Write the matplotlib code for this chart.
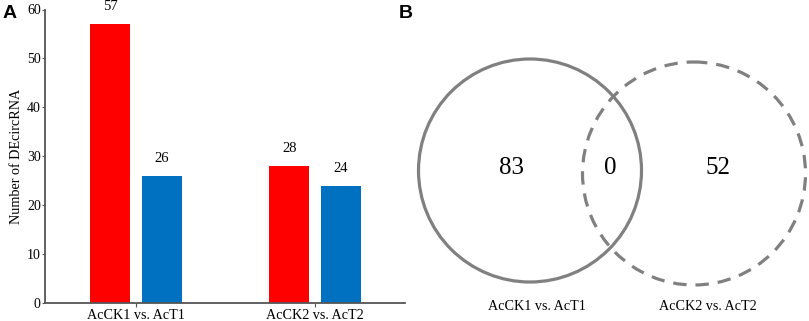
import numpy as np
import matplotlib
matplotlib.use("Agg")
import matplotlib.pyplot as plt
from matplotlib.patches import Circle

plt.rcParams['font.family'] = ['Liberation Serif', 'DejaVu Serif']

# panel A data
groups = ['AcCK1 vs. AcT1', 'AcCK2 vs. AcT2']
red_vals = [57, 28]
blue_vals = [26, 24]

# panel B data
venn_labels = ['AcCK1 vs. AcT1', 'AcCK2 vs. AcT2']
venn_counts = [83, 0, 52]   # only 1, both, only 2

W, H = 809, 321
fig = plt.figure(figsize=(W / 100, H / 100), dpi=100)

axis_col = '#555555'
ax = fig.add_axes([45 / W, 18 / H, 360 / W, 293.5 / H])
x = np.arange(len(groups))
bw = 0.223
off = 0.032 + bw / 2
ax.bar(x - off, red_vals, bw, color='#FF0000')
ax.bar(x + off, blue_vals, bw, color='#0070C0')
for xi, v in zip(x - off, red_vals):
    ax.text(xi, v + 2.2, str(v), ha='center', va='bottom', fontsize=10.5)
for xi, v in zip(x + off, blue_vals):
    ax.text(xi, v + 2.2, str(v), ha='center', va='bottom', fontsize=10.5)
ax.set_xlim(-0.508, 1.503)
ax.set_ylim(0, 60)
ax.set_yticks(range(0, 61, 10))
ax.set_xticks(x)
ax.set_xticklabels(groups, fontsize=10.2)
ax.tick_params(axis='y', labelsize=10, length=2, width=0.8, color=axis_col, pad=1)
ax.tick_params(axis='x', length=3, width=0.8, color=axis_col, pad=1)
ax.set_ylabel('Number of DEcircRNA', fontsize=10.2, labelpad=3)
for s in ['top', 'right']:
    ax.spines[s].set_visible(False)
for s in ['left', 'bottom']:
    ax.spines[s].set_color(axis_col)
    ax.spines[s].set_linewidth(1.3)

# panel B: Venn diagram drawn in pixel coordinates
vx = fig.add_axes([0, 0, 1, 1])
vx.set_xlim(0, W)
vx.set_ylim(H, 0)
vx.axis('off')
vx.patch.set_alpha(0)
gray = '#808080'
vx.add_patch(Circle((530, 170.5), 111.5, fill=False, ec=gray, lw=2.3))
vx.add_patch(Circle((694, 173.5), 111.5, fill=False, ec=gray, lw=2.3,
                    ls=(0, (4.2, 2.8))))
for xp, c in zip([512, 610, 718], venn_counts):
    vx.text(xp, 168, str(c), ha='center', va='center', fontsize=18)
for xp, lab in zip([537, 708], venn_labels):
    vx.text(xp, 307, lab, ha='center', va='center', fontsize=10.2)

fig.text(3 / W, 1 - 14 / H, 'A', fontsize=14, fontweight='bold',
         family='Liberation Sans', va='center')
fig.text(399 / W, 1 - 13 / H, 'B', fontsize=14, fontweight='bold',
         family='Liberation Sans', va='center')

fig.savefig('out.png', dpi=100)
